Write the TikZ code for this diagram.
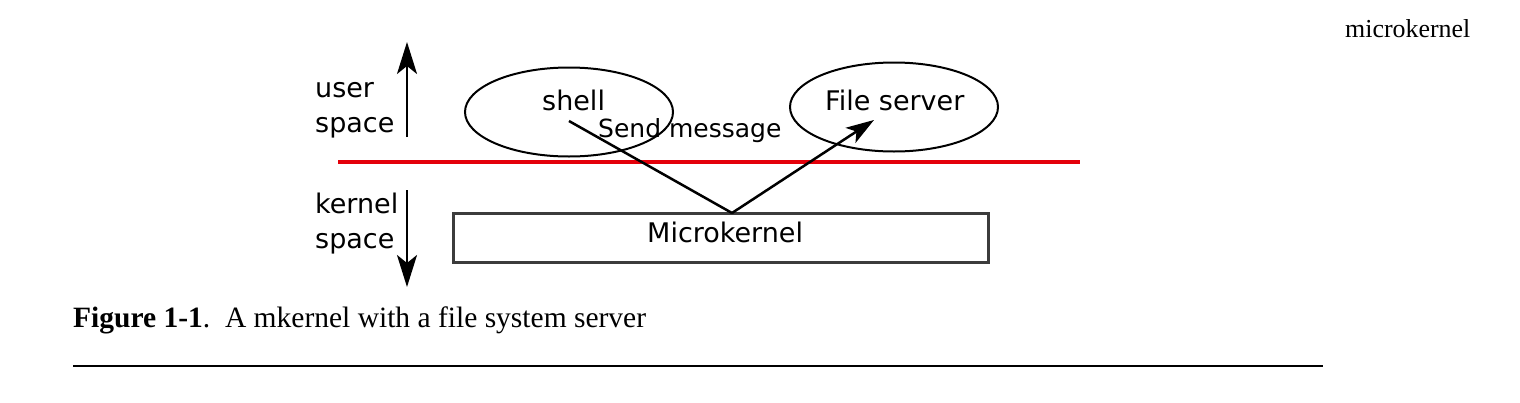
\documentclass[tikz,border=0pt]{standalone}
\usepackage{fontspec}
\setmainfont{Liberation Serif}
\newfontfamily\diag{DejaVu Sans}
\usetikzlibrary{arrows.meta,shapes.geometric}
\definecolor{redline}{RGB}{228,0,10}
\definecolor{boxgray}{RGB}{60,60,60}
\begin{document}
\begin{tikzpicture}[x=1pt,y=-1pt,
  dlabel/.style={inner sep=0pt,anchor=base west,font=\diag\fontsize{27}{32}\selectfont},
  proc/.style={draw,ellipse,line width=2pt,minimum width=208pt,minimum height=89pt,inner sep=0pt},
  bigarrow/.style={line width=2.5pt,-{Stealth[length=32pt,width=20pt,inset=8pt]}},
  msg/.style={line width=2.5pt},
  msgarrow/.style={line width=2.5pt,-{Stealth[length=28pt,width=18pt,inset=7pt]}}]
\useasboundingbox (0,0) rectangle (1520,402);
% header
\node[inner sep=0pt,anchor=base west,font=\fontsize{25.9}{30}\selectfont] (hdr) at (1345,37) {microkernel};
% space labels
\node[dlabel] (user) at (315,97) {user};
\node[dlabel] (uspace) at (315,132) {space};
\node[dlabel] (kernel) at (315,213) {kernel};
\node[dlabel] (kspace) at (315,248) {space};
\coordinate (ua0) at (407,137);
\coordinate (ua1) at (407,42);
\coordinate (da0) at (407,190);
\coordinate (da1) at (407,287);
\draw[bigarrow] (ua0) -- (ua1);
\draw[bigarrow] (da0) -- (da1);
% processes
\node[proc] (shellE) at (569,112) {};
\node[proc] (fsE) at (894,107) {};
\node[dlabel] (shell) at (542,110) {shell};
\node[dlabel] (fs) at (825,110) {File server};
% red boundary
\coordinate (r0) at (338,162);
\coordinate (r1) at (1080,162);
\draw[redline,line width=4.5pt] (r0) -- (r1);
% microkernel box
\node[draw=boxgray,line width=3pt,minimum width=535pt,minimum height=49pt,inner sep=0pt] (mk) at (720.5,237.5) {};
\node[dlabel] (mktext) at (647,242) {Microkernel};
% message
\coordinate (m0) at (569,121);
\coordinate (mk0) at (732,213);
\coordinate (m1) at (874,120);
\draw[msg] (m0) -- (mk0);
\draw[msgarrow] (mk0) -- (m1);
\node[dlabel,font=\diag\fontsize{25}{30}\selectfont] (send) at (598,137) {Send message};
% caption
\node[inner sep=0pt,anchor=base west,font=\fontsize{29.5}{35}\selectfont] (cap) at (73,327) {\textbf{Figure 1-1}.\ \ A mkernel with a file system server};
\coordinate (h0) at (73,366);
\coordinate (h1) at (1323,366);
\draw[line width=1.5pt] (h0) -- (h1);
\end{tikzpicture}
\end{document}
